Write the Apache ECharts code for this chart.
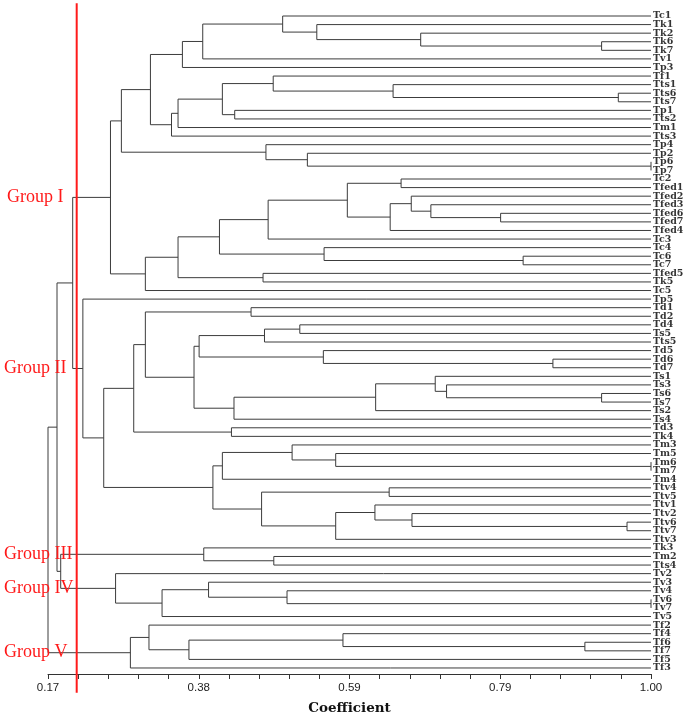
<!DOCTYPE html>
<html>
<head>
<meta charset="utf-8">
<script src="https://cdn.jsdelivr.net/npm/echarts@6/dist/echarts.min.js"></script>
<style>html,body{margin:0;padding:0;background:#fff}#c{width:685px;height:715px}</style>
</head>
<body>
<div id="c"></div>
<script>
// Leaf order (top to bottom)
const leaves = ['Tc1','Tk1','Tk2','Tk6','Tk7','Tv1','Tp3','Tf1','Tts1','Tts6','Tts7','Tp1','Tts2','Tm1','Tts3','Tp4','Tp2','Tp6','Tp7','Tc2','Tfed1','Tfed2','Tfed3','Tfed6','Tfed7','Tfed4','Tc3','Tc4','Tc6','Tc7','Tfed5','Tk5','Tc5','Tp5','Td1','Td2','Td4','Ts5','Tts5','Td5','Td6','Td7','Ts1','Ts3','Ts6','Ts7','Ts2','Ts4','Td3','Tk4','Tm3','Tm5','Tm6','Tm7','Tm4','Ttv4','Ttv5','Ttv1','Ttv2','Ttv6','Ttv7','Ttv3','Tk3','Tm2','Tts4','Tv2','Tv3','Tv4','Tv6','Tv7','Tv5','Tf2','Tf4','Tf6','Tf7','Tf5','Tf3'];

// Merges: [childA, childB, coefficient]; string = leaf, number = earlier merge index
const merges = [
  ['Tk6','Tk7',0.932], ['Tk2',0,0.683], ['Tk1',1,0.540], ['Tc1',2,0.493], [3,'Tv1',0.383], [4,'Tp3',0.355],
  ['Tts6','Tts7',0.955], ['Tts1',6,0.645], ['Tf1',7,0.480], ['Tp1','Tts2',0.427], [8,9,0.410], [10,'Tm1',0.349],
  [11,'Tts3',0.340], [5,12,0.311], ['Tp6','Tp7',1.0], ['Tp2',14,0.527], ['Tp4',15,0.470], [13,16,0.271],
  ['Tc2','Tfed1',0.656], ['Tfed6','Tfed7',0.793], ['Tfed3',19,0.697], ['Tfed2',20,0.670], [21,'Tfed4',0.641],
  [18,22,0.582], [23,'Tc3',0.473], ['Tc6','Tc7',0.824], ['Tc4',25,0.550], [24,26,0.406], ['Tfed5','Tk5',0.466],
  [27,28,0.349], [29,'Tc5',0.304], [17,30,0.256],
  ['Td1','Td2',0.4495], ['Td4','Ts5',0.5166], [33,'Tts5',0.468], ['Td6','Td7',0.865], ['Td5',35,0.549],
  [34,36,0.378], ['Ts6','Ts7',0.932], ['Ts3',38,0.7186], ['Ts1',39,0.703], [40,'Ts2',0.621], [41,'Ts4',0.426],
  [37,42,0.371], [32,43,0.304], ['Td3','Tk4',0.4225], [44,45,0.288], ['Tm6','Tm7',1.0], ['Tm5',47,0.566],
  ['Tm3',48,0.506], [49,'Tm4',0.410], ['Ttv4','Ttv5',0.6396], ['Ttv6','Ttv7',0.967], ['Ttv2',52,0.671],
  ['Ttv1',53,0.620], [54,'Ttv3',0.566], [51,55,0.464], [50,56,0.397], [46,57,0.2467], ['Tp5',58,0.218],
  [31,59,0.204],
  ['Tm2','Tts4',0.4808], ['Tk3',61,0.3844],
  ['Tv6','Tv7',1.0], ['Tv4',63,0.499], ['Tv3',64,0.391], [65,'Tv5',0.327], ['Tv2',66,0.263],
  [62,67,0.1875], [60,68,0.1824],
  ['Tf6','Tf7',0.909], ['Tf4',70,0.576], [71,'Tf5',0.364], ['Tf2',72,0.309], [73,'Tf3',0.2834],
  [69,74,0.17]
];

const cutValue = 0.2095;
const tickValues = [0.17, 0.3775, 0.585, 0.7925, 1.0];
const tickLabels = ['0.17','0.38','0.59','0.79','1.00'];
const groupNames = ['Group I','Group II','Group III','Group IV','Group V'];
const groupNodes = [31, 59, 62, 67, 74];

// Build dendrogram segments in data space
const nodeY = [], nodeH = [];
function childPos(c) {
  if (typeof c === 'string') return [1.0, leaves.indexOf(c)];
  return [nodeH[c], nodeY[c]];
}
const segs = [];
merges.forEach((m, i) => {
  const a = childPos(m[0]), b = childPos(m[1]), h = m[2];
  nodeH[i] = h; nodeY[i] = (a[1] + b[1]) / 2;
  segs.push({coords: [[a[0], a[1]], [h, a[1]], [h, b[1]], [b[0], b[1]]]});
});

const minorTicks = [];
for (let k = 0; k <= 20; k++) minorTicks.push(+(0.17 + k * 0.0415).toFixed(4));
const leafPoints = leaves.map((n, i) => ({name: n, value: [1.0, i]}));

const chart = echarts.init(document.getElementById('c'), null, {renderer: 'canvas'});
chart.setOption({
  animation: false,
  backgroundColor: '#fff',
  grid: {left: 48, right: 34, top: 10, height: 664, outerBoundsMode: 'none', containLabel: false},
  xAxis: {
    type: 'value', min: 0.17, max: 1.0,
    axisLine: {show: true, onZero: false, lineStyle: {color: '#333', width: 1}},
    axisTick: {show: true, customValues: minorTicks, length: 5, lineStyle: {color: '#333'}},
    axisLabel: {customValues: tickValues, margin: 8, color: '#222', fontFamily: 'Liberation Sans', fontSize: 11.5,
      showMinLabel: true, showMaxLabel: true,
      formatter: v => { let i = tickValues.findIndex(t => Math.abs(t - v) < 1e-6); return i >= 0 ? tickLabels[i] : ''; }},
    splitLine: {show: false},
    name: 'Coefficient', nameLocation: 'middle', nameGap: 27,
    nameTextStyle: {fontFamily: 'DejaVu Serif', fontWeight: 'bold', fontSize: 13.5, color: '#111'}
  },
  yAxis: {
    type: 'value', inverse: true, min: -0.7, max: 76.7, show: false
  },
  series: [
    {type: 'lines', coordinateSystem: 'cartesian2d', polyline: true, silent: true,
      lineStyle: {color: '#3c3c3c', width: 1, opacity: 1}, data: segs},
    {type: 'scatter', symbolSize: 0, silent: true, clip: false, data: leafPoints,
      label: {show: true, position: 'right', distance: 2, formatter: '{b}', color: '#000',
        fontFamily: 'DejaVu Serif', fontWeight: 'bold', fontSize: 9.5}},
    {type: 'line', clip: false, symbol: 'none', silent: true, z: 10,
      lineStyle: {color: '#ff1a1a', width: 2}, data: [[cutValue, -1.5], [cutValue, 78.9]]}
  ]
});

// Group labels placed at the y of each group's stem
const gfx = groupNames.map((name, i) => {
  const py = chart.convertToPixel({gridIndex: 0}, [0.17, nodeY[groupNodes[i]]])[1];
  return {type: 'text', x: i === 0 ? 7 : 4, y: py, z: 100,
    style: {text: name, fill: '#ff1a1a', font: '18px "Liberation Serif"', verticalAlign: 'middle', align: 'left'}};
});
chart.setOption({graphic: gfx});
</script>
</body>
</html>
